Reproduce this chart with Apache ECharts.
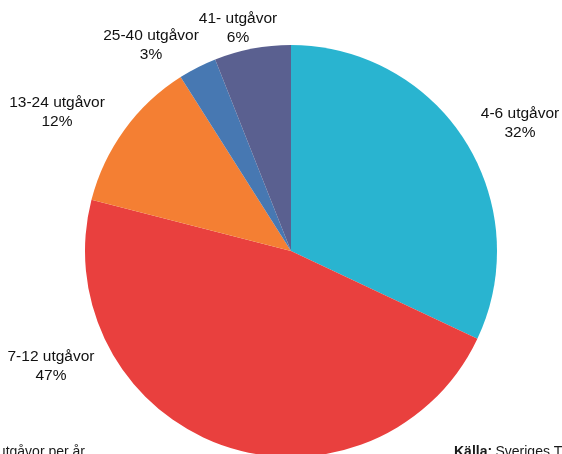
<!DOCTYPE html>
<html><head><meta charset="utf-8">
<script src="https://cdn.jsdelivr.net/npm/echarts@6/dist/echarts.min.js"></script>
<style>html,body{margin:0;padding:0;background:#fff}#c{width:562px;height:454px}</style>
</head><body><div id="c"></div>
<script>
const categories = ['4-6 utgåvor', '7-12 utgåvor', '13-24 utgåvor', '25-40 utgåvor', '41- utgåvor'];
const shares = [32, 47, 12, 3, 6];
const colors = ['#29B4D0', '#E9403E', '#F47F33', '#4778B2', '#5A6090'];
// label centre positions (layout only)
const labelPos = [[520, 123], [51, 366], [57, 112], [151, 45], [238, 28]];

const chart = echarts.init(document.getElementById('c'), null, {renderer: 'canvas'});
chart.setOption({
  animation: false,
  series: [{
    type: 'pie',
    center: [291, 251],
    radius: [0, 206],
    startAngle: 90,
    clockwise: true,
    data: categories.map((n, i) => ({name: n, value: shares[i], itemStyle: {color: colors[i]}})),
    itemStyle: {borderWidth: 0},
    label: {
      show: true,
      position: 'inside',
      formatter: '{b}\n{c}%',
      fontFamily: 'Liberation Sans, Arial, sans-serif',
      fontSize: 15.5,
      lineHeight: 19,
      color: '#111111',
      align: 'center',
      overflow: 'none'
    },
    labelLine: {show: false},
    labelLayout: function (p) {
      const pos = labelPos[p.dataIndex];
      return {x: pos[0], y: pos[1], align: 'center', verticalAlign: 'middle', hideOverlap: false};
    },
    emphasis: {disabled: true}
  }],
  graphic: [
    {type: 'text', right: 562 - 85, top: 445, style: {text: 'Antal utgåvor per år', fontFamily: 'Liberation Sans, Arial, sans-serif', fontSize: 14, fill: '#1a1a1a', textAlign: 'right'}},
    {type: 'text', left: 454, top: 445, style: {rich: {b: {fontWeight: 'bold', fontSize: 14, fontFamily: 'Liberation Sans, Arial, sans-serif', fill: '#1a1a1a'}, n: {fontSize: 14, fontFamily: 'Liberation Sans, Arial, sans-serif', fill: '#1a1a1a'}}, text: '{b|Källa:} {n|Sveriges Tidskrifter}'}}
  ]
});
</script></body></html>
